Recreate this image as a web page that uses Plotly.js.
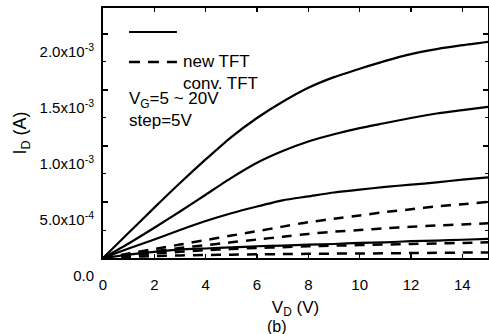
<!DOCTYPE html>
<html>
<head>
<meta charset="utf-8">
<script src="https://cdn.plot.ly/plotly-3.0.1.min.js"></script>
<style>html,body{margin:0;padding:0;background:#fff;}#chart{width:489px;height:334px;}</style>
</head>
<body>
<div id="chart"></div>
<script>
// Drain voltage V_D (V)
const vd = [0,1,2,3,4,5,6,7,8,9,10,11,12,13,14,15];
// Drain current in units of 1e-3 A
// new TFT, V_G = 20, 15, 10, 5 V (solid)
const new20 = [0,0.225,0.45,0.67,0.88,1.08,1.25,1.395,1.52,1.615,1.69,1.76,1.82,1.865,1.90,1.93];
const new15 = [0,0.13,0.27,0.415,0.565,0.715,0.85,0.955,1.04,1.105,1.16,1.205,1.25,1.29,1.32,1.35];
const new10 = [0,0.085,0.165,0.25,0.33,0.40,0.46,0.515,0.55,0.585,0.61,0.635,0.655,0.675,0.70,0.72];
const new5  = [0,0.03,0.055,0.075,0.085,0.095,0.105,0.11,0.12,0.125,0.135,0.14,0.15,0.155,0.163,0.17];
// conv. TFT, V_G = 20, 15, 10, 5 V (dashed)
const conv20 = [0,0.04,0.08,0.12,0.16,0.20,0.24,0.28,0.32,0.35,0.38,0.41,0.435,0.46,0.48,0.50];
const conv15 = [0,0.03,0.06,0.09,0.115,0.14,0.165,0.19,0.215,0.235,0.25,0.265,0.278,0.29,0.30,0.31];
const conv10 = [0,0.02,0.04,0.055,0.07,0.08,0.09,0.097,0.105,0.11,0.115,0.12,0.125,0.13,0.135,0.14];
const conv5  = [0,0.01,0.018,0.023,0.027,0.03,0.033,0.035,0.037,0.039,0.04,0.042,0.044,0.046,0.048,0.05];

const yTickVals = [0,0.5,1.0,1.5,2.0];
const yTickText = ['0.0','5.0x10<sup>-4</sup>','1.0x10<sup>-3</sup>','1.5x10<sup>-3</sup>','2.0x10<sup>-3</sup>'];
const xTickVals = [0,2,4,6,8,10,12,14];

const FONT = 'Arial, "Liberation Sans", sans-serif';
const solidSeries = [new20,new15,new10,new5];
const dashSeries = [conv20,conv15,conv10,conv5];

const traces = [];
solidSeries.forEach(s => traces.push({x: vd, y: s, mode: 'lines', line: {color: '#000', width: 2.2, shape: 'spline', smoothing: 0.6}, showlegend: false, hoverinfo: 'skip'}));
dashSeries.forEach(s => traces.push({x: vd, y: s, mode: 'lines', line: {color: '#000', width: 2.5, dash: '10px,8px', shape: 'spline', smoothing: 0.6}, showlegend: false, hoverinfo: 'skip'}));

const layout = {
  width: 489, height: 334,
  margin: {l: 103, r: 1, t: 8, b: 76},
  paper_bgcolor: '#fff', plot_bgcolor: '#fff',
  font: {family: FONT, color: '#000', size: 15},
  xaxis: {
    range: [0, 15], tickmode: 'array', tickvals: xTickVals,
    ticks: 'inside', ticklen: 4, tickwidth: 1.5, tickcolor: '#000',
    showline: true, linewidth: 2, linecolor: '#000', mirror: 'ticks',
    showgrid: false, zeroline: false,
    tickfont: {family: FONT, size: 15, color: '#000'},
    ticklabelstandoff: 12,
    title: {text: 'V<sub>D</sub> (V)', font: {family: FONT, size: 17, color: '#000'}, standoff: 9}
  },
  yaxis: {
    range: [0, 2.232], tickmode: 'array', tickvals: yTickVals, ticktext: yTickText,
    ticks: 'inside', ticklen: 5, tickwidth: 1.5, tickcolor: '#000',
    minor: {tickmode: 'linear', tick0: 0, dtick: 0.25, ticks: 'inside', ticklen: 3, tickcolor: '#000', tickwidth: 1, showgrid: false},
    showline: true, linewidth: 2, linecolor: '#000', mirror: 'ticks',
    showgrid: false, zeroline: false,
    tickfont: {family: FONT, size: 15, color: '#000'},
    ticklabelshift: 18, ticklabelstandoff: 4,
    title: {text: 'I<sub>D</sub> (A)', font: {family: FONT, size: 18, color: '#000'}, standoff: 8}
  },
  shapes: [
    {type: 'line', xref: 'paper', yref: 'paper', x0: 0.0675, x1: 0.192, y0: 0.904, y1: 0.904, line: {color: '#000', width: 2.2}},
    {type: 'line', xref: 'paper', yref: 'paper', x0: 0.0675, x1: 0.192, y0: 0.784, y1: 0.784, line: {color: '#000', width: 2.5, dash: '11px,8px'}}
  ],
  annotations: [
    {xref: 'paper', yref: 'paper', x: 0.203, y: 0.784, xanchor: 'left', yanchor: 'middle', text: 'new TFT', showarrow: false, font: {family: FONT, size: 17, color: '#000'}},
    {xref: 'paper', yref: 'paper', x: 0.203, y: 0.70, xanchor: 'left', yanchor: 'middle', text: 'conv. TFT', showarrow: false, font: {family: FONT, size: 17, color: '#000'}},
    {xref: 'paper', yref: 'paper', x: 0.062, y: 0.632, xanchor: 'left', yanchor: 'middle', text: 'V<sub>G</sub>=5 ~ 20V', showarrow: false, font: {family: FONT, size: 17, color: '#000'}},
    {xref: 'paper', yref: 'paper', x: 0.062, y: 0.548, xanchor: 'left', yanchor: 'middle', text: 'step=5V', showarrow: false, font: {family: FONT, size: 17, color: '#000'}},
    {xref: 'paper', yref: 'paper', x: 0.452, y: -0.274, xanchor: 'center', yanchor: 'middle', text: '(b)', showarrow: false, font: {family: FONT, size: 16, color: '#000'}}
  ]
};

Plotly.newPlot('chart', traces, layout, {staticPlot: true, displayModeBar: false});
</script>
</body>
</html>
